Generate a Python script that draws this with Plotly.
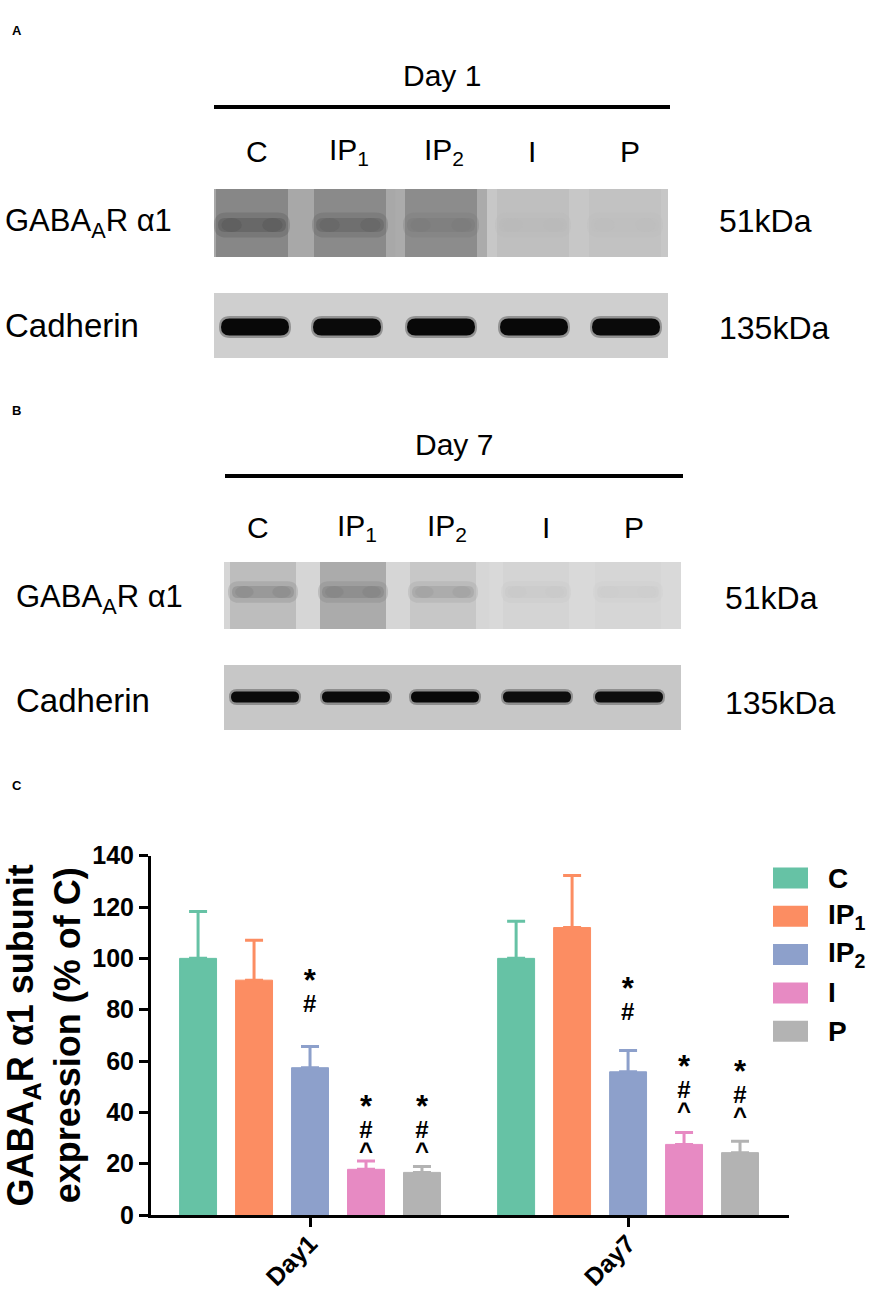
import plotly.graph_objects as go

W, H = 875, 1300
FONT = "Arial, Liberation Sans, Helvetica, sans-serif"

# ---- panel C: mean and upper SEM (% of C) ----
days = ["Day1", "Day7"]
groups = ["C", "IP<sub>1</sub>", "IP<sub>2</sub>", "I", "P"]
colors = ["#66C2A5", "#FC8D62", "#8DA0CB", "#E78AC3", "#B3B3B3"]

mean_c = [100.0, 100.0]
mean_ip1 = [91.5, 112.0]
mean_ip2 = [57.4, 55.8]
mean_i = [17.8, 27.5]
mean_p = [16.6, 24.3]

err_c = [18.3, 14.5]
err_ip1 = [15.6, 20.3]
err_ip2 = [8.3, 8.3]
err_i = [3.2, 4.6]
err_p = [2.3, 4.4]

# significance marks (top to bottom) and the height of the middle of each stack
sig_marks = ["", "", "*#", "*#^", "*#^"]
sig_y_day1 = [None, None, 87.6, 34.3, 34.3]
sig_y_day7 = [None, None, 84.5, 50.0, 48.0]

# ---- panels A/B: darkness of the blots (0 = white, 1 = black) ----
day1_gaba_lane = [0.47, 0.46, 0.45, 0.25, 0.24]
day1_gaba_gap = [0.34, 0.34, 0.33, 0.22, 0.22]
day1_gaba_band = [0.66, 0.62, 0.52, 0.27, 0.26]
day1_cad_bg = [0.19, 0.19, 0.19, 0.19, 0.19]
day1_cad_band = [0.97, 0.96, 0.97, 0.97, 0.96]

day7_gaba_lane = [0.26, 0.33, 0.22, 0.17, 0.16]
day7_gaba_gap = [0.16, 0.16, 0.16, 0.15, 0.15]
day7_gaba_band = [0.48, 0.50, 0.38, 0.22, 0.20]
day7_cad_bg = [0.22, 0.22, 0.22, 0.22, 0.22]
day7_cad_band = [0.96, 0.96, 0.97, 0.95, 0.95]

shapes = []
annotations = []


def px(x):
    return x / W


def py(y):
    return 1 - y / H


def gray(d):
    g = round(255 * (1 - d))
    return f"rgb({g},{g},{g})"


def rect(x0, y0, x1, y1, color, opacity=1.0):
    shapes.append(dict(type="rect", xref="paper", yref="paper",
                       x0=px(x0), x1=px(x1), y0=py(y1), y1=py(y0),
                       fillcolor=color, opacity=opacity, line=dict(width=0)))


def stadium(x0, x1, yc, h, color, opacity=1.0):
    r = h / 2
    pts = dict(a=px(x0), b=px(x0 + r), c=px(x1 - r), d=px(x1),
               t=py(yc - r), m=py(yc), u=py(yc + r))
    path = ("M {b},{t} L {c},{t} Q {d},{t} {d},{m} Q {d},{u} {c},{u} "
            "L {b},{u} Q {a},{u} {a},{m} Q {a},{t} {b},{t} Z").format(**pts)
    shapes.append(dict(type="path", xref="paper", yref="paper", path=path,
                       fillcolor=color, opacity=opacity, line=dict(width=0)))


def spot(xc, yc, w, h, color, opacity):
    shapes.append(dict(type="circle", xref="paper", yref="paper",
                       x0=px(xc - w / 2), x1=px(xc + w / 2), y0=py(yc + h / 2), y1=py(yc - h / 2),
                       fillcolor=color, opacity=opacity, line=dict(width=0)))


def text(x, y, s, size, xanchor="center", bold=False):
    annotations.append(dict(x=px(x), y=py(y), xref="paper", yref="paper",
                            text=s, showarrow=False, xanchor=xanchor, yanchor="middle",
                            font=dict(family=FONT, size=size, color="black",
                                      weight="bold" if bold else "normal")))


def blot(x0, x1, y0, y1, centers, half_w, lane, gap, band, band_y, band_h, band_half, soft):
    rect(x0, y0, x1, y1, gray(gap[0]))
    mids = [(centers[i] + centers[i + 1]) / 2 for i in range(len(centers) - 1)]
    edges = [x0] + mids + [x1]
    for i in range(len(centers)):
        if gap[i] != gap[0]:
            rect(edges[i], y0, edges[i + 1], y1, gray(gap[i]))
        if half_w:
            rect(max(x0, centers[i] - half_w), y0, min(x1, centers[i] + half_w), y1, gray(lane[i]))
    for i, c in enumerate(centers):
        if soft:
            stadium(c - band_half - 4, c + band_half + 4, band_y, band_h * 1.8, gray(band[i]), 0.3)
            stadium(c - band_half, c + band_half, band_y, band_h, gray(band[i]), 0.5)
            for dx in (-0.6, 0.6):
                spot(c + dx * band_half, band_y, band_half * 0.6, band_h, gray(band[i]), 0.45)
        else:
            stadium(c - band_half - 2, c + band_half + 2, band_y, band_h + 5, gray(band[i]), 0.3)
            stadium(c - band_half, c + band_half, band_y, band_h, gray(band[i]), 1.0)


def blot_panel(letter, letter_y, day_label, day_y, line_x, line_y, lab_y, lab_x,
               gaba_box, gaba_centers, gaba_hw, gaba_data, gaba_band_y, gaba_band_h,
               cad_box, cad_centers, cad_data, cad_band_y, cad_band_h,
               name_x, gaba_y, cad_y, kda_x, kda_y1, kda_y2):
    text(10, letter_y, letter, 13, "left", True)
    text((line_x[0] + line_x[1]) / 2, day_y, day_label, 30)
    shapes.append(dict(type="line", xref="paper", yref="paper",
                       x0=px(line_x[0]), x1=px(line_x[1]), y0=py(line_y), y1=py(line_y),
                       line=dict(color="black", width=4)))
    for lx, lab in zip(lab_x, groups):
        text(lx, lab_y, lab, 30)
    gx0, gy0, gx1, gy1 = gaba_box
    blot(gx0, gx1, gy0, gy1, gaba_centers, gaba_hw, gaba_data[0], gaba_data[1], gaba_data[2],
         gaba_band_y, gaba_band_h, gaba_hw - 2, True)
    cx0, cy0, cx1, cy1 = cad_box
    blot(cx0, cx1, cy0, cy1, cad_centers, 0, cad_data[0], cad_data[0], cad_data[1],
         cad_band_y, cad_band_h, 34, False)
    text(name_x, gaba_y, "GABA<sub>A</sub>R α1", 31, "left")
    text(name_x, cad_y, "Cadherin", 33, "left")
    text(kda_x, kda_y1, "51kDa", 32, "left")
    text(kda_x, kda_y2, "135kDa", 32, "left")


blot_panel("A", 30, "Day 1", 76, (214, 670), 107, 151, [257, 349, 444, 532, 630],
           (214, 189, 668, 257), [252, 350, 441, 533, 625], 36,
           (day1_gaba_lane, day1_gaba_gap, day1_gaba_band), 225, 14,
           (214, 293, 668, 358), [255, 347, 441, 534, 626], (day1_cad_bg, day1_cad_band), 327, 17,
           3, 223, 326, 717, 221, 328)

blot_panel("B", 410, "Day 7", 444, (225, 683), 476, 528, [258, 357, 447, 546, 634],
           (224, 562, 681, 629), [263, 353, 443, 536, 628], 33,
           (day7_gaba_lane, day7_gaba_gap, day7_gaba_band), 592, 12,
           (224, 665, 681, 730), [265, 356, 445, 537, 629], (day7_cad_bg, day7_cad_band), 697, 11,
           14, 599, 700, 723, 598, 703)

# ---- panel C: grouped bar chart ----
text(10, 785, "C", 13, "left", True)

means = [mean_c, mean_ip1, mean_ip2, mean_i, mean_p]
errs = [err_c, err_ip1, err_ip2, err_i, err_p]

fig = go.Figure()
for name, m, e, col in zip(groups, means, errs, colors):
    fig.add_trace(go.Bar(
        x=days, y=m, name=name, showlegend=False,
        marker=dict(color=col, line=dict(color=col, width=1)),
        error_y=dict(type="data", symmetric=False, array=e, arrayminus=[0] * len(e),
                     color=col, thickness=3, width=9),
    ))

X0, X1 = 151, 789          # x axis pixel extent
Y0, Y1 = 1215, 855.7       # y = 0 and y = 140 in pixels
x_range = [-0.5, 1.506]
bargap, bargroupgap = 0.12, 0.34
cat_px = (X1 - X0) / (x_range[1] - x_range[0])
slot_px = cat_px * (1 - bargap) / len(groups)

# small base font keeps the stacked marks tight; each glyph is enlarged inline
mark_size = {"*": 31, "#": 24, "^": 24}
for g, marks in enumerate(sig_marks):
    if not marks:
        continue
    lines = [f"<span style='font-size:{mark_size[ch]}px'>{ch}</span>" for ch in marks]
    for day, yc in zip(days, [sig_y_day1[g], sig_y_day7[g]]):
        annotations.append(dict(
            x=day, y=yc, xref="x", yref="y", text="<br>".join(lines), showarrow=False,
            xshift=(g - (len(groups) - 1) / 2) * slot_px, yanchor="middle",
            font=dict(family=FONT, size=16, color="black", weight="bold")))

# legend drawn as swatches next to the plot
for i, (name, col) in enumerate(zip(groups, colors)):
    yc = 878 + i * 38.3
    rect(773, yc - 10.5, 808, yc + 10.5, col)
    text(826, yc, name, 28, "left", True)

axis_font = dict(family=FONT, size=25, color="black", weight="bold")
fig.update_layout(
    width=W, height=H,
    margin=dict(l=0, r=0, t=0, b=0),
    paper_bgcolor="white", plot_bgcolor="white",
    barmode="group", bargap=bargap, bargroupgap=bargroupgap,
    shapes=shapes, annotations=annotations,
    xaxis=dict(domain=[X0 / W, X1 / W], range=x_range, type="category",
               showline=True, linewidth=3, linecolor="black", showgrid=False,
               ticks="outside", ticklen=9, tickwidth=3, tickcolor="black",
               tickangle=-45, tickfont=dict(family=FONT, size=25, color="black", weight="bold"),
               ticklabelstandoff=-8, automargin=False),
    yaxis=dict(domain=[1 - Y0 / H, 1 - Y1 / H], range=[0, 140], dtick=20,
               showline=True, linewidth=3, linecolor="black", showgrid=False, zeroline=False,
               ticks="outside", ticklen=9, tickwidth=3, tickcolor="black",
               tickfont=axis_font, automargin=False,
               title=dict(text="GABA<sub>A</sub>R α1 subunit<br>expression (% of C)",
                          font=dict(family=FONT, size=36, color="black", weight="bold"),
                          standoff=4)),
)

# the browser adds an 8px body margin by default; drop it so the figure sits at 0,0
fig.write_html("out.html", config={"displayModeBar": False},
               post_script="document.body.style.margin='0';")
